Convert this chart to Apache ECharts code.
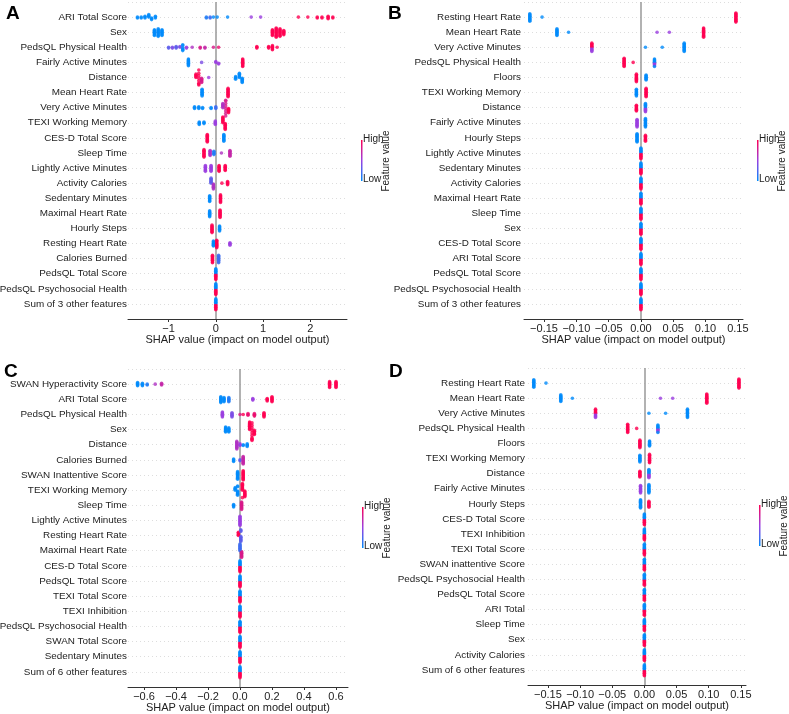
<!DOCTYPE html>
<html><head><meta charset="utf-8">
<script src="https://cdn.jsdelivr.net/npm/echarts@6/dist/echarts.min.js"></script>
<style>html,body{margin:0;padding:0;background:#fff}#c{width:789px;height:714px}</style>
</head><body><div id="c"></div>
<script>
// Each feature: list of clusters [shapValue, pointCount, featureValue(0=low,1=high)]
const featuresA = ["ARI Total Score","Sex","PedsQL Physical Health","Fairly Active Minutes","Distance","Mean Heart Rate","Very Active Minutes","TEXI Working Memory","CES-D Total Score","Sleep Time","Lightly Active Minutes","Activity Calories","Sedentary Minutes","Maximal Heart Rate","Hourly Steps","Resting Heart Rate","Calories Burned","PedsQL Total Score","PedsQL Psychosocial Health","Sum of 3 other features"];
const pointsA = [
 [[-1.66,2,0],[-1.58,2,0],[-1.5,3,0],[-1.42,4,0],[-1.36,3,0],[-1.28,3,0],[-0.2,2,0.1],[-0.12,2,0.2],[-0.05,1,0],[0.03,1,0],[0.25,1,0],[0.75,1,0.5],[0.95,1,0.5],[1.75,1,1],[1.95,1,1],[2.15,2,1],[2.25,2,1],[2.38,4,1],[2.48,2,1]],
 [[-1.3,8,0],[-1.22,10,0],[-1.14,8,0],[1.2,8,1],[1.28,12,1],[1.36,10,1],[1.44,6,1]],
 [[-1.0,2,0.3],[-0.92,2,0.4],[-0.84,3,0.3],[-0.76,2,0.4],[-0.7,6,0],[-0.62,2,0.5],[-0.5,1,0.6],[-0.33,2,0.8],[-0.23,2,0.7],[-0.05,1,0.8],[0.06,1,0.9],[0.87,3,1],[1.12,3,1],[1.2,6,1],[1.3,1,1]],
 [[-0.58,9,0],[-0.3,1,0.4],[0.0,2,0.5],[0.06,2,0.5],[0.57,10,1]],
 [[-0.42,5,1],[-0.36,8,1],[-0.3,6,0.8],[-0.15,1,0.5],[0.42,4,0],[0.5,6,0],[0.56,6,0]],
 [[-0.29,9,0],[0.26,11,1]],
 [[-0.45,3,0],[-0.36,3,0],[-0.28,2,0],[-0.1,2,0],[0.0,3,0.2],[0.15,6,0.6],[0.21,8,0.8],[0.27,6,1]],
 [[-0.35,4,0],[-0.25,3,0],[-0.01,5,0.5],[0.15,8,1],[0.2,8,1]],
 [[-0.18,10,1],[0.17,9,0]],
 [[-0.25,10,1],[-0.12,7,0.6],[-0.04,5,0.1],[0.12,1,0.6],[0.3,8,0.7]],
 [[-0.22,8,0.5],[-0.1,8,0.5],[0.07,8,1],[0.2,7,1]],
 [[-0.1,7,0.3],[-0.05,7,0.6],[0.13,1,1],[0.25,5,1]],
 [[-0.13,8,0],[0.1,10,1]],
 [[-0.13,8,0],[0.09,10,1]],
 [[-0.08,10,1],[0.08,7,0]],
 [[-0.05,7,0],[0.02,10,1],[0.3,4,0.5]],
 [[-0.07,10,1],[0.06,10,0.2]],
 [[0,7,0],[0,7,1]],
 [[0,7,0],[0,7,1]],
 [[0,7,0],[0,7,1]]
];
const featuresB = ["Resting Heart Rate","Mean Heart Rate","Very Active Minutes","PedsQL Physical Health","Floors","TEXI Working Memory","Distance","Fairly Active Minutes","Hourly Steps","Lightly Active Minutes","Sedentary Minutes","Activity Calories","Maximal Heart Rate","Sleep Time","Sex","CES-D Total Score","ARI Total Score","PedsQL Total Score","PedsQL Psychosocial Health","Sum of 3 other features"];
const pointsB = [
 [[-0.172,10,0],[-0.153,1,0],[0.147,12,1]],
 [[-0.13,9,0],[-0.112,1,0],[0.025,1,0.5],[0.044,1,0.5],[0.097,12,1]],
 [[-0.076,6,1],[-0.076,5,0.5],[0.007,1,0],[0.033,1,0],[0.067,11,0]],
 [[-0.026,11,1],[-0.012,1,1],[0.021,6,0],[0.021,4,0.5]],
 [[-0.007,10,1],[0.008,7,0]],
 [[-0.007,9,0],[0.008,11,1]],
 [[-0.007,8,1],[0.007,6,0],[0.007,5,0.5]],
 [[-0.006,10,0.5],[0.007,11,0]],
 [[-0.006,11,0],[0.007,8,1]],
 [[0,7,0],[0,7,1]],[[0,7,0],[0,7,1]],[[0,7,0],[0,7,1]],[[0,7,0],[0,7,1]],[[0,7,0],[0,7,1]],
 [[0,7,0],[0,7,1]],[[0,7,0],[0,7,1]],[[0,7,0],[0,7,1]],[[0,7,0],[0,7,1]],[[0,7,0],[0,7,1]],[[0,7,0],[0,7,1]]
];
const featuresC = ["SWAN Hyperactivity Score","ARI Total Score","PedsQL Physical Health","Sex","Distance","Calories Burned","SWAN Inattentive Score","TEXI Working Memory","Sleep Time","Lightly Active Minutes","Resting Heart Rate","Maximal Heart Rate","CES-D Total Score","PedsQL Total Score","TEXI Total Score","TEXI Inhibition","PedsQL Psychosocial Health","SWAN Total Score","Sedentary Minutes","Sum of 6 other features"];
const pointsC = [
 [[-0.64,5,0],[-0.61,4,0],[-0.58,2,0.1],[-0.53,1,0.6],[-0.49,3,0.7],[0.56,8,1],[0.6,8,1]],
 [[-0.12,8,0],[-0.1,6,0],[-0.07,6,0.1],[0.08,3,0.5],[0.17,4,1],[0.2,7,1]],
 [[-0.11,7,0.5],[-0.05,6,0.4],[0.0,1,0.8],[0.02,1,1],[0.05,3,0.9],[0.09,4,0.9],[0.15,6,1]],
 [[-0.09,7,0],[-0.07,6,0],[0.06,10,1],[0.075,10,1],[0.09,6,1]],
 [[-0.02,10,0.6],[0.0,3,0.5],[0.02,2,0],[0.045,4,0]],
 [[-0.04,4,0],[0.0,2,0.3],[0.02,10,0.7]],
 [[-0.015,10,0],[0.02,12,1]],
 [[-0.03,4,0],[-0.015,8,0],[0.015,10,1],[0.03,8,1]],
 [[-0.04,4,0],[0.01,10,0.8]],
 [[0,12,0.5]],
 [[-0.01,5,1],[0.005,10,0.3]],
 [[0,9,0.2],[0.01,8,0.8]],
 [[0,7,0],[0,7,1]],[[0,7,0],[0,7,1]],[[0,7,0],[0,7,1]],[[0,7,0],[0,7,1]],[[0,7,0],[0,7,1]],
 [[0,7,0],[0,7,1]],[[0,7,0],[0,7,1]],[[0,7,0],[0,7,1]]
];
const featuresD = ["Resting Heart Rate","Mean Heart Rate","Very Active Minutes","PedsQL Physical Health","Floors","TEXI Working Memory","Distance","Fairly Active Minutes","Hourly Steps","CES-D Total Score","TEXI Inhibition","TEXI Total Score","SWAN inattentive Score","PedsQL Psychosocial Health","PedsQL Total Score","ARI Total","Sleep Time","Sex","Activity Calories","Sum of 6 other features"];
const pointsD = [
 [[-0.172,10,0],[-0.153,1,0],[0.147,12,1]],
 [[-0.13,9,0],[-0.112,1,0],[0.025,1,0.5],[0.044,1,0.5],[0.097,12,1]],
 [[-0.076,6,1],[-0.076,5,0.5],[0.007,1,0],[0.033,1,0],[0.067,11,0]],
 [[-0.026,11,1],[-0.012,1,1],[0.021,6,0],[0.021,4,0.5]],
 [[-0.007,10,1],[0.008,7,0]],
 [[-0.007,9,0],[0.008,11,1]],
 [[-0.007,8,1],[0.007,6,0],[0.007,5,0.5]],
 [[-0.006,10,0.5],[0.007,11,0]],
 [[-0.006,11,0],[0.007,8,1]],
 [[0,7,0],[0,7,1]],[[0,7,0],[0,7,1]],[[0,7,0],[0,7,1]],[[0,7,0],[0,7,1]],[[0,7,0],[0,7,1]],
 [[0,7,0],[0,7,1]],[[0,7,0],[0,7,1]],[[0,7,0],[0,7,1]],[[0,7,0],[0,7,1]],[[0,7,0],[0,7,1]],[[0,7,0],[0,7,1]]
];
const ticksA = [-1,0,1,2];
const ticksB = [-0.15,-0.10,-0.05,0,0.05,0.10,0.15];
const ticksC = [-0.6,-0.4,-0.2,0,0.2,0.4,0.6];
const ticksD = [-0.15,-0.10,-0.05,0,0.05,0.10,0.15];
const axisName = "SHAP value (impact on model output)";

// swarm layout: stack points in each row vertically where they overlap in x
function layout(points, xmin, xmax, widthPx){
  const out=[];
  points.forEach((row,ri)=>{
    const queues=row.map(c=>({x:c[0],n:c[1],c:c[2]}));
    const seq=[]; let more=true;
    while(more){more=false;queues.forEach(q=>{if(q.n>0){seq.push([q.x,q.c]);q.n--;more=true;}});}
    const placed=[];
    const tol=(xmax-xmin)*3/widthPx;
    seq.forEach(p=>{
      let k=placed.filter(o=>Math.abs(o[0]-p[0])<tol).length;
      const off=(k===0?0:(k%2?1:-1)*Math.ceil(k/2))*0.055;
      placed.push(p);
      out.push([p[0],ri+off,p[1]]);
    });
  });
  return out;
}
const panels=[
 {f:featuresA,p:pointsA,t:ticksA,min:-1.86,max:2.78,left:128,top:2,w:219,h:317,dec:0,letter:"A",lx:6,ly:4,cb:[361,140],m:1},
 {f:featuresB,p:pointsB,t:ticksB,min:-0.181,max:0.158,left:524,top:2,w:219,h:317,dec:2,letter:"B",lx:388,ly:4,cb:[757,140],m:3},
 {f:featuresC,p:pointsC,t:ticksC,min:-0.70,max:0.675,left:128,top:369,w:220,h:318,dec:1,letter:"C",lx:4,ly:362,cb:[362,507],m:1},
 {f:featuresD,p:pointsD,t:ticksD,min:-0.181,max:0.158,left:528,top:368,w:218,h:317,dec:2,letter:"D",lx:389,ly:362,cb:[759,505],m:3}
];
const FONT="Liberation Sans";
const grid=[],xAxis=[],yAxis=[],series=[],graphic=[];
panels.forEach((P,i)=>{
  grid.push({left:P.left,top:P.top,width:P.w,height:P.h,containLabel:false,outerBoundsMode:'none'});
  xAxis.push({type:'value',gridIndex:i,min:P.min,max:P.max,
    name:axisName,nameLocation:'middle',nameGap:15,nameTextStyle:{fontFamily:FONT,fontSize:11,color:'#222'},
    axisLine:{show:true,onZero:false,lineStyle:{color:'#333',width:1}},
    axisTick:{show:true,customValues:P.t,length:3,lineStyle:{color:'#333'}},
    axisLabel:{customValues:P.t,fontFamily:FONT,fontSize:11,color:'#222',margin:4,formatter:v=>v.toFixed(P.dec).replace('-','\u2212')},
    splitLine:{show:false}});
  yAxis.push({type:'value',gridIndex:i,inverse:true,min:-1,max:20,interval:1,
    axisLine:{show:false},axisTick:{show:false},
    axisLabel:{fontFamily:FONT,fontSize:9.9,color:'#222',margin:P.m,formatter:v=>(v>=0&&v<20)?P.f[Math.round(v)]:''},
    splitLine:{show:true,lineStyle:{color:'#ddd',type:[1,3],width:1}}});
  series.push({type:'scatter',xAxisIndex:i,yAxisIndex:i,symbolSize:3.6,
    data:layout(P.p,P.min,P.max,P.w),z:3,
    markLine:{silent:true,symbol:'none',label:{show:false},lineStyle:{color:'#999',width:1.5,type:'solid'},data:[{xAxis:0}],z:1}});
  graphic.push({type:'text',left:P.lx,top:P.ly,style:{text:P.letter,font:'bold 19px "Liberation Sans"',fill:'#000'}});
  const [cx,cy]=P.cb;
  graphic.push({type:'rect',shape:{x:cx,y:cy,width:1.5,height:41},style:{fill:new echarts.graphic.LinearGradient(0,0,0,1,[{offset:0,color:'#ff0051'},{offset:0.5,color:'#9b3fe0'},{offset:1,color:'#008bfb'}])}});
  graphic.push({type:'text',x:cx+2,y:cy-6,style:{text:'High',font:'10px "Liberation Sans"',fill:'#222'}});
  graphic.push({type:'text',x:cx+2,y:cy+34,style:{text:'Low',font:'10px "Liberation Sans"',fill:'#222'}});
  graphic.push({type:'text',x:cx+25,y:cy+21,rotation:Math.PI/2,style:{text:'Feature value',font:'10px "Liberation Sans"',fill:'#222',align:'center',verticalAlign:'middle'}});
});
const chart=echarts.init(document.getElementById('c'),null,{renderer:'canvas'});
chart.setOption({animation:false,grid,xAxis,yAxis,series,graphic,
  visualMap:{type:'continuous',show:false,min:0,max:1,dimension:2,seriesIndex:[0,1,2,3],inRange:{color:['#008bfb','#9b3fe0','#ff0051']}}});
</script></body></html>
